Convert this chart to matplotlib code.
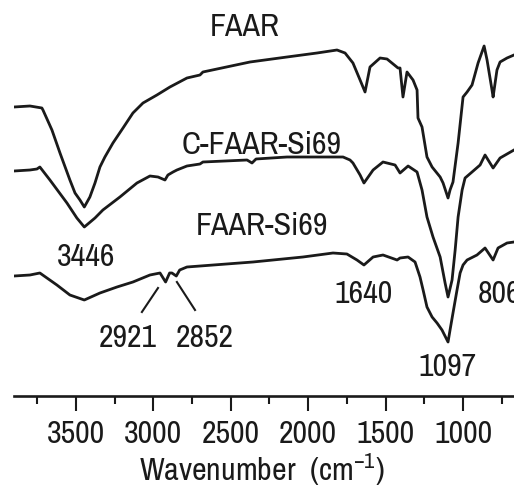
import matplotlib
matplotlib.use("Agg")
import matplotlib.pyplot as plt
from matplotlib.ticker import MultipleLocator

FONT = ['Archivo Narrow', 'Liberation Sans', 'DejaVu Sans']
plt.rcParams['font.family'] = FONT
plt.rcParams['mathtext.fontset'] = 'custom'
plt.rcParams['mathtext.rm'] = 'Archivo Narrow'
plt.rcParams['mathtext.it'] = 'Archivo Narrow'
plt.rcParams['mathtext.default'] = 'regular'

# FTIR spectra (wavenumber in cm^-1, transmittance in arbitrary offset units)
faar_w = [3900, 3797, 3720, 3713, 3655, 3603, 3539, 3506, 3474, 3446, 3410, 3377, 3345, 3313,
          3261, 3196, 3132, 3067, 2977, 2893, 2783, 2699, 2680, 2376, 2137, 1943, 1814, 1762,
          1711, 1665, 1633, 1601, 1536, 1491, 1420, 1407, 1388, 1362, 1323, 1297, 1291, 1265,
          1233, 1200, 1148, 1129, 1097, 1084, 1065, 1032, 1000, 974, 942, 903, 864, 845, 813,
          806, 781, 761, 716, 671]
faar_t = [289, 290, 288, 286, 266, 243, 216, 203, 196, 189, 199, 213, 229, 239,
          253, 268, 283, 293, 301, 309, 318, 321, 324, 334, 339, 343, 346, 343,
          333, 316, 304, 329, 338, 337, 328, 328, 299, 324, 316, 306, 278, 269,
          239, 229, 219, 213, 198, 206, 214, 253, 299, 304, 311, 333, 350, 336, 306,
          299, 326, 334, 338, 341]

cfaar_w = [3900, 3797, 3752, 3733, 3668, 3558, 3494, 3446, 3377, 3326, 3216, 3106, 3022, 2970,
           2925, 2906, 2873, 2848, 2783, 2699, 2680, 2395, 2363, 2337, 2137, 1775, 1730, 1711,
           1665, 1640, 1581, 1517, 1439, 1407, 1355, 1297, 1265, 1233, 1194, 1148, 1116, 1097,
           1071, 1051, 1032, 1006, 987, 942, 890, 858, 806, 761, 671]
cfaar_t = [225, 226, 227, 229, 216, 193, 178, 169, 178, 186, 199, 213, 220, 219,
           216, 221, 224, 226, 230, 232, 234, 236, 233, 237, 239, 239, 236, 233,
           221, 213, 226, 234, 231, 223, 230, 224, 206, 179, 159, 139, 113, 99,
           116, 146, 179, 206, 218, 224, 231, 241, 228, 238, 246]

si69_w = [3900, 3797, 3733, 3623, 3539, 3446, 3345, 3235, 3132, 3022, 2957, 2921, 2895, 2880,
          2852, 2830, 2783, 2357, 2034, 1840, 1750, 1685, 1640, 1581, 1517, 1426, 1407, 1355,
          1310, 1278, 1258, 1233, 1200, 1168, 1136, 1097, 1084, 1065, 1039, 1019, 1000, 974,
          910, 858, 806, 774, 716, 671]
si69_t = [120, 121, 123, 111, 101, 96, 103, 109, 114, 121, 123, 114, 123, 123,
          120, 126, 129, 134, 139, 143, 142, 136, 131, 139, 141, 136, 138, 139,
          134, 119, 106, 89, 79, 73, 66, 54, 66, 83, 106, 123, 131, 136,
          141, 148, 136, 148, 153, 154]

series_labels = ["FAAR", "C-FAAR-Si69", "FAAR-Si69"]
peak_labels = ["3446", "2921", "2852", "1640", "1097", "806"]
x_ticks = [3500, 3000, 2500, 2000, 1500, 1000]

fig = plt.figure(figsize=(5.14, 4.87), dpi=100)
ax = fig.add_axes([14/514, 91/487, 500/514, 396/487])

lc = '#1a1a1a'
for w, t in [(faar_w, faar_t), (cfaar_w, cfaar_t), (si69_w, si69_t)]:
    ax.plot(w, t, color=lc, lw=2.0, solid_joinstyle='round')

fs = 23
ax.set_xlim(3900, 671)
ax.set_ylim(0, 396)
ax.set_xticks(x_ticks)
ax.xaxis.set_minor_locator(MultipleLocator(250))
ax.tick_params(axis='x', which='major', direction='out', length=11, width=1.5,
               labelsize=fs, pad=6, colors=lc)
ax.tick_params(axis='x', which='minor', direction='out', length=6, width=1.5, colors=lc)
ax.set_yticks([])
for s in ['left', 'right', 'top']:
    ax.spines[s].set_visible(False)
ax.spines['bottom'].set_linewidth(1.9)
ax.spines['bottom'].set_color(lc)

ax.text(2408, 369, series_labels[0], ha='center', va='center', fontsize=fs, color=lc)
ax.text(2298, 251, series_labels[1], ha='center', va='center', fontsize=fs, color=lc)
ax.text(2298, 170, series_labels[2], ha='center', va='center', fontsize=fs, color=lc)

ax.text(3435, 139, peak_labels[0], ha='center', va='center', fontsize=fs, color=lc)
ax.text(3164, 58, peak_labels[1], ha='center', va='center', fontsize=fs, color=lc)
ax.text(2667, 58, peak_labels[2], ha='center', va='center', fontsize=fs, color=lc)
ax.text(1640, 102, peak_labels[3], ha='center', va='center', fontsize=fs, color=lc)
ax.text(1103, 29, peak_labels[4], ha='center', va='center', fontsize=fs, color=lc)
ax.text(903, 102, peak_labels[5], ha='left', va='center', fontsize=fs, color=lc, clip_on=False)

ax.plot([3074, 2970], [84, 108], color=lc, lw=1.5)
ax.plot([2848, 2731], [114, 86], color=lc, lw=1.5)

fig.text(262/514, 1 - 470/487, r'Wavenumber  (cm$^{-1}$)', ha='center', va='center',
         fontsize=fs, color=lc)

fig.savefig('out.png', dpi=100)
